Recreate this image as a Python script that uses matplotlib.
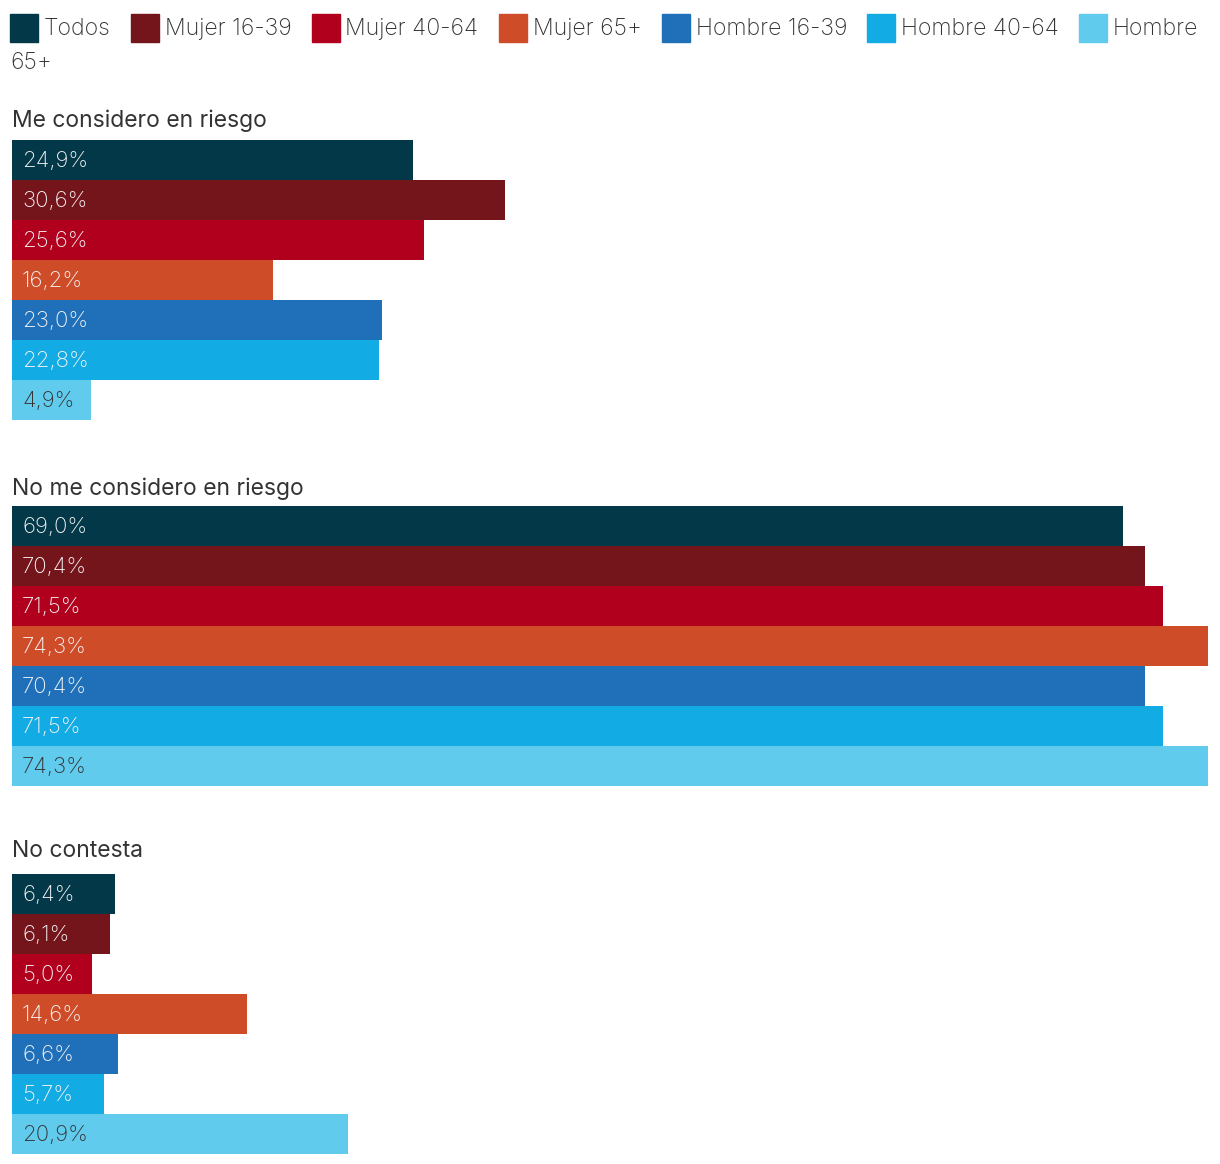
import matplotlib.pyplot as plt
from matplotlib.patches import Rectangle

plt.rcParams['font.family'] = ['Inter', 'DejaVu Sans']

series = ['Todos', 'Mujer 16-39', 'Mujer 40-64', 'Mujer 65+',
          'Hombre 16-39', 'Hombre 40-64', 'Hombre 65+']
colors = ['#023848', '#74141b', '#b0001e', '#cf4c29',
          '#2070b9', '#12abe3', '#61cbee']
groups = ['Me considero en riesgo', 'No me considero en riesgo', 'No contesta']
riesgo = [24.9, 30.6, 25.6, 16.2, 23.0, 22.8, 4.9]
no_riesgo = [69.0, 70.4, 71.5, 74.3, 70.4, 71.5, 74.3]
no_contesta = [6.4, 6.1, 5.0, 14.6, 6.6, 5.7, 20.9]
values = [riesgo, no_riesgo, no_contesta]

W, H = 1220, 1164
fig = plt.figure(figsize=(W / 100, H / 100), dpi=100)

# layout in pixels (from top)
bar_tops = [140, 506, 874]
title_base = [127, 495, 857]
bar_h = 40
left, right = 12, 1208
xmax = max(max(v) for v in values)

for g, vals in enumerate(values):
    n = len(vals)
    ax = fig.add_axes([left / W, (H - bar_tops[g] - n * bar_h) / H,
                       (right - left) / W, n * bar_h / H])
    ax.barh(range(n), vals, height=1.0, color=colors)
    ax.set_xlim(0, xmax)
    ax.set_ylim(n - 0.5, -0.5)
    ax.axis('off')
    for i, v in enumerate(vals):
        tc = '#333333' if i == n - 1 else '#f4f4f4'
        ax.annotate(f'{v:.1f}'.replace('.', ',') + '%', xy=(0, i),
                    xytext=(10, -7), textcoords='offset pixels',
                    va='baseline', ha='left', fontsize=16, color=tc,
                    fontweight='light')
    fig.text(left / W, (H - title_base[g]) / H, groups[g], fontsize=16.5,
             color='#333333', va='baseline', ha='left')

# legend, drawn by hand so the last label wraps like the original
renderer = fig.canvas.get_renderer()
x = 10
sq = 28
for i, (name, c) in enumerate(zip(series, colors)):
    label = name
    if i == len(series) - 1:
        label = name.split(' ')[0]
    fig.patches.append(Rectangle((x / W, (H - 42) / H), sq / W, sq / H,
                                 transform=fig.transFigure, color=c))
    t = fig.text((x + sq + 6) / W, (H - 35) / H, label, fontsize=16.6,
                 fontweight='light', color='#333333', va='baseline')
    bb = t.get_window_extent(renderer)
    x = bb.x1 + 20
fig.text(10 / W, (H - 69) / H, series[-1].split(' ')[1], fontsize=16.6,
         fontweight='light', color='#333333', va='baseline')

fig.savefig('out.png', dpi=100)
